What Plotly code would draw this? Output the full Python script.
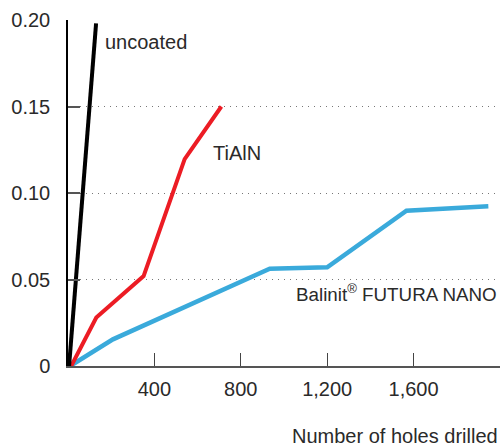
import plotly.graph_objects as go

# Data
uncoated_x = [5, 130]
uncoated_y = [0, 0.198]

tialn_x = [15, 131, 350, 540, 710]
tialn_y = [0, 0.028, 0.052, 0.1196, 0.150]

futura_x = [10, 208, 934, 1200, 1567, 1946]
futura_y = [0, 0.0154, 0.0562, 0.0571, 0.0898, 0.0923]

x_tickvals = [400, 800, 1200, 1600]
x_ticktext = ["400", "800", "1,200", "1,600"]
x_minor_tickvals = [2000]
y_tickvals = [0, 0.05, 0.10, 0.15, 0.20]
y_ticktext = ["0", "0.05", "0.10", "0.15", "0.20"]

FONT = "Liberation Sans, Arial, Helvetica, sans-serif"
TXT = "#2a2a2a"
FS = 20

fig = go.Figure()
fig.add_trace(go.Scatter(x=futura_x, y=futura_y, mode="lines",
                         line=dict(color="#3aaadb", width=4.5), hoverinfo="skip"))
fig.add_trace(go.Scatter(x=tialn_x, y=tialn_y, mode="lines",
                         line=dict(color="#ec1c24", width=4), hoverinfo="skip"))
fig.add_trace(go.Scatter(x=uncoated_x, y=uncoated_y, mode="lines",
                         line=dict(color="#000000", width=4), hoverinfo="skip"))

fig.update_layout(
    width=501, height=446,
    margin=dict(l=68, r=1, t=20, b=80),
    paper_bgcolor="white", plot_bgcolor="white",
    showlegend=False,
    font=dict(family=FONT, size=FS, color=TXT),
    xaxis=dict(range=[0, 2000], tickvals=x_tickvals, ticktext=x_ticktext,
               ticks="inside", ticklen=13, tickcolor="#444", tickwidth=1,
               minor=dict(tickvals=x_minor_tickvals, ticks="inside", ticklen=13,
                          tickcolor="#444", tickwidth=1, showgrid=False),
               showline=True, linecolor="#555", linewidth=1.5,
               showgrid=False, zeroline=False, ticklabelstandoff=4,
               tickfont=dict(family=FONT, size=FS, color=TXT)),
    yaxis=dict(range=[0, 0.2], tickvals=y_tickvals, ticktext=y_ticktext,
               ticks="inside", ticklen=12, tickcolor="#555", tickwidth=1.5,
               showline=True, linecolor="#000", linewidth=1.5,
               showgrid=True, gridcolor="#777", griddash="1px,5px", gridwidth=1.2,
               zeroline=False, ticklabelstandoff=12,
               tickfont=dict(family=FONT, size=FS, color=TXT)),
)

fig.add_annotation(x=160, y=0.1873, xref="x", yref="y", text="uncoated",
                   showarrow=False, xanchor="left", yanchor="middle",
                   font=dict(family=FONT, size=FS, color=TXT))
fig.add_annotation(x=662, y=0.1231, xref="x", yref="y", text="TiAlN",
                   showarrow=False, xanchor="left", yanchor="middle",
                   font=dict(family=FONT, size=FS, color=TXT))
fig.add_annotation(x=1045, y=0.0424, xref="x", yref="y",
                   text="Balinit<sup>®</sup> FUTURA NANO",
                   showarrow=False, xanchor="left", yanchor="middle",
                   font=dict(family=FONT, size=18.8, color=TXT))
fig.add_annotation(x=1, y=-0.203, xref="paper", yref="paper",
                   text="Number of holes drilled",
                   showarrow=False, xanchor="right", yanchor="middle",
                   font=dict(family=FONT, size=FS, color=TXT))

fig.write_html("out.html", config={"displayModeBar": False},
               post_script="document.body.style.margin='0';document.body.style.overflow='hidden';")
